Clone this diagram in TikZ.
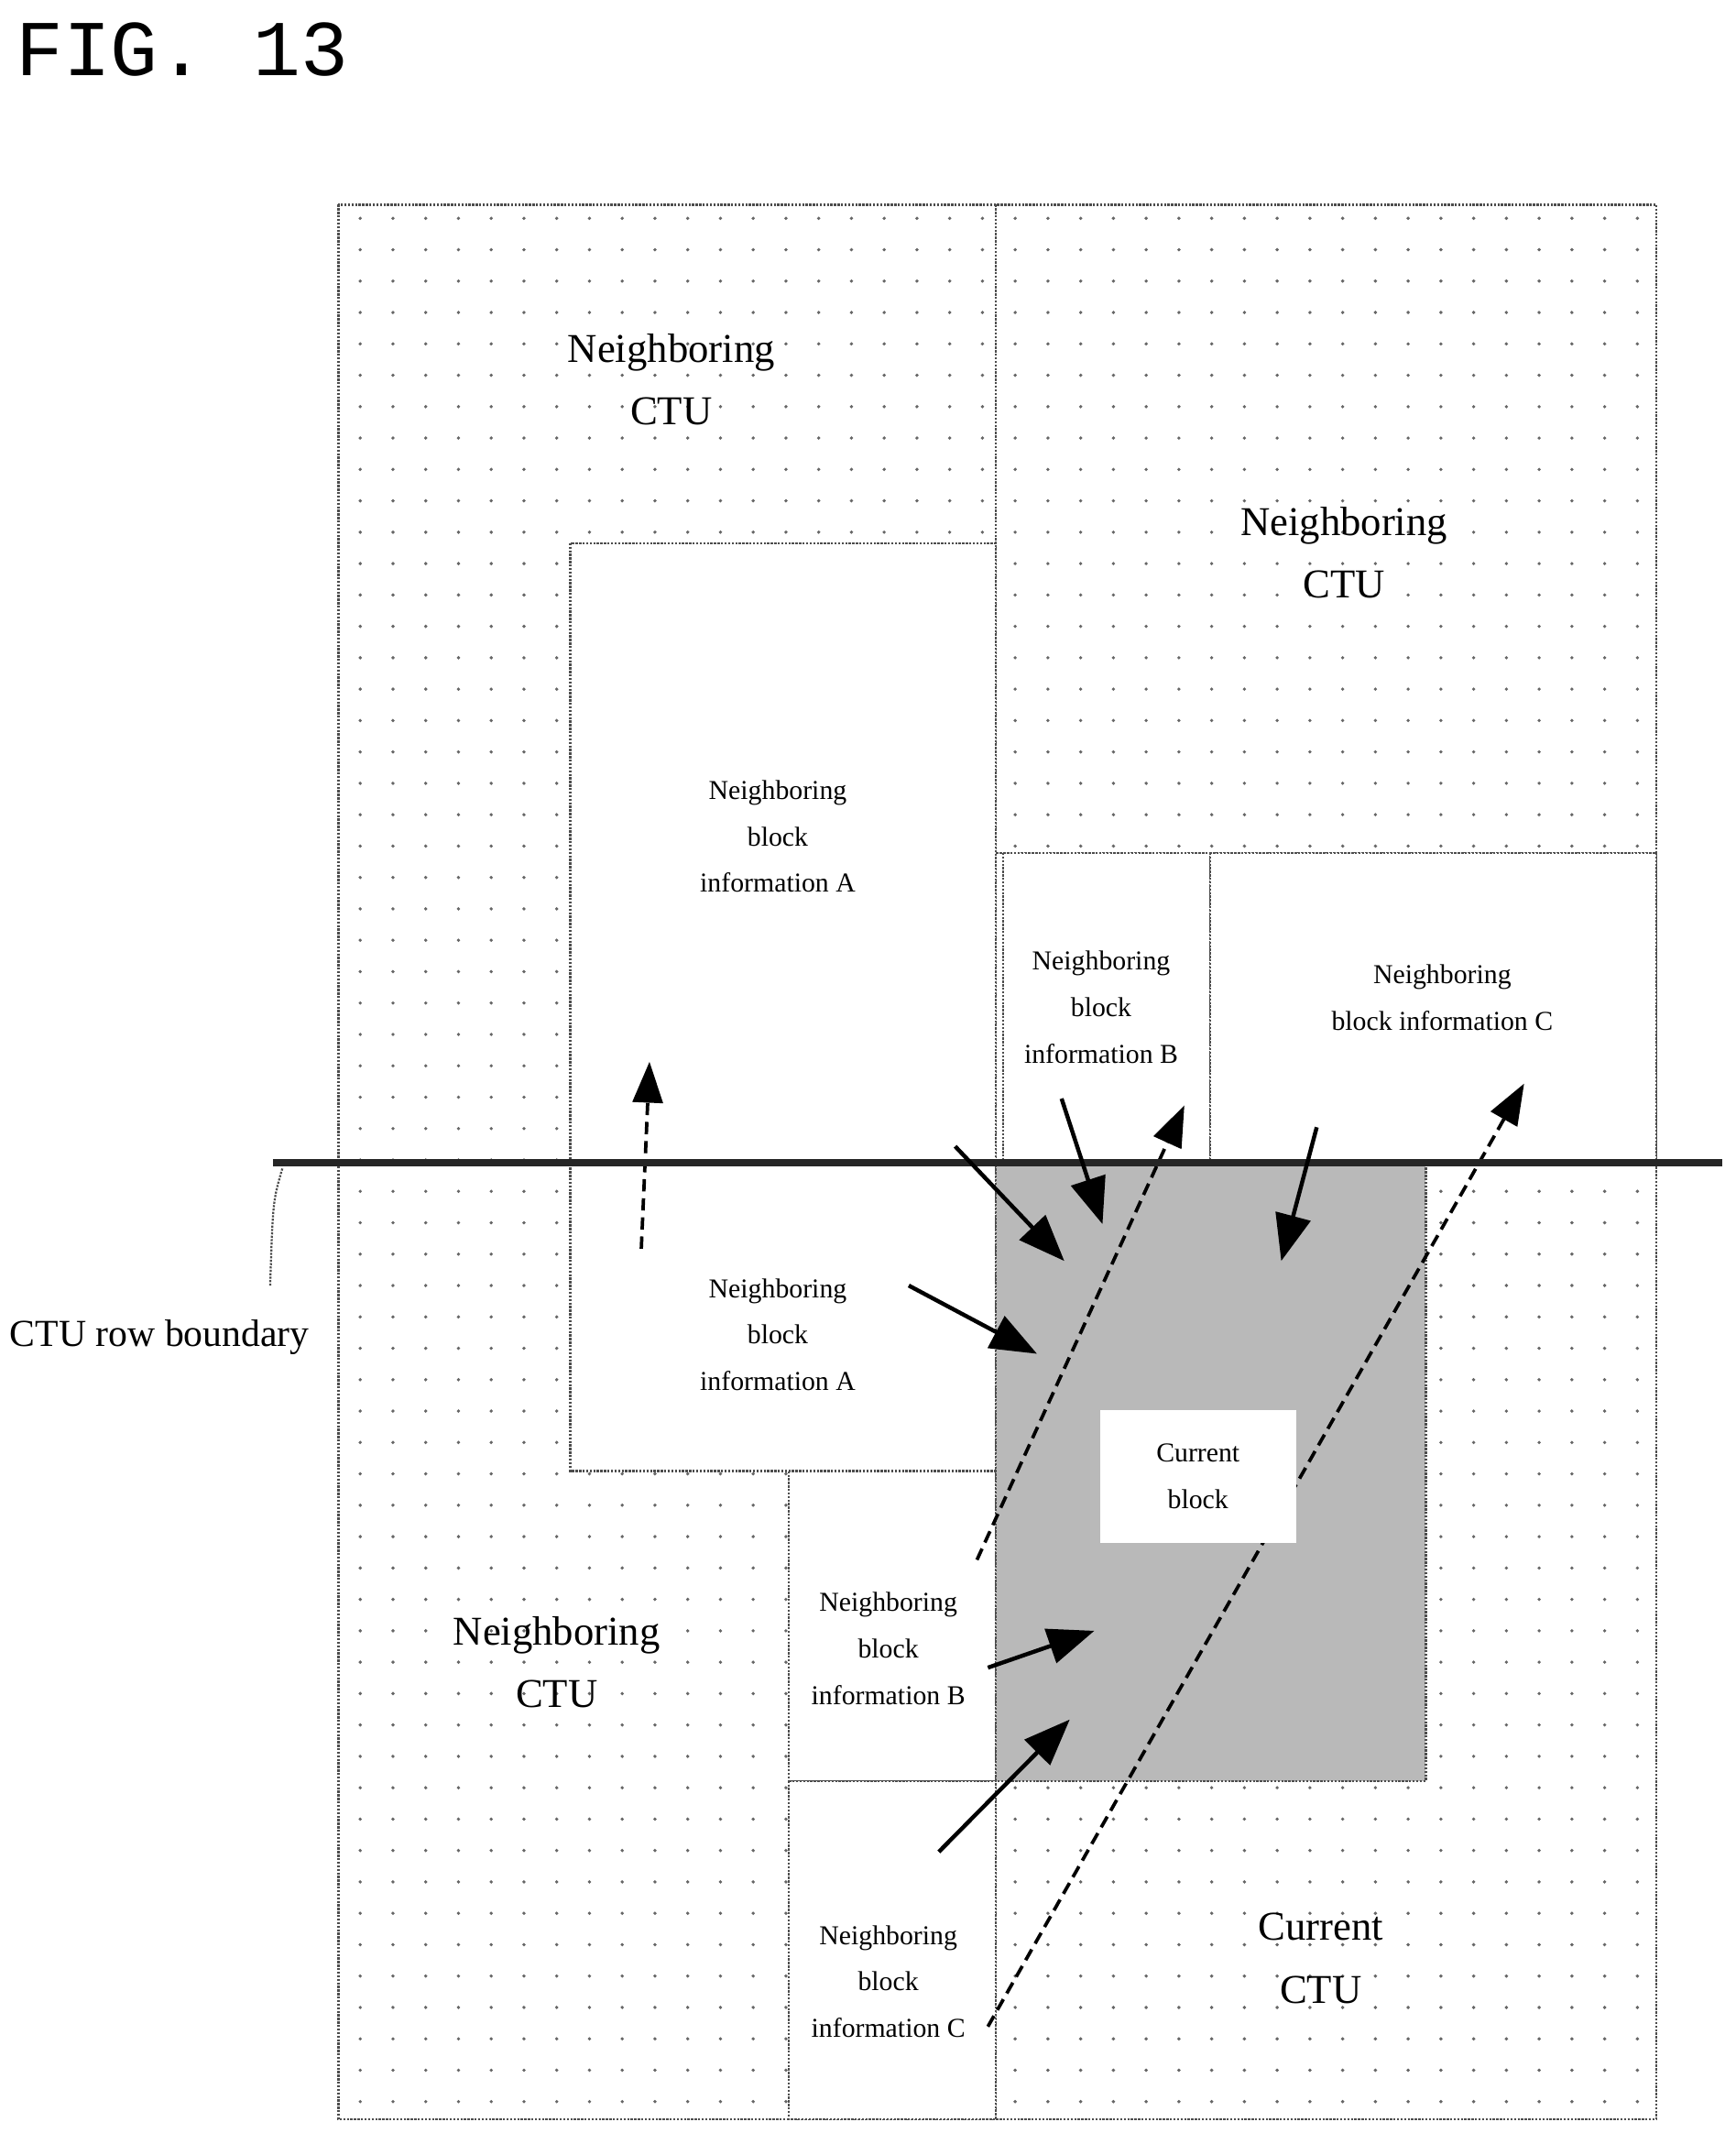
\documentclass[tikz,border=0pt]{standalone}
\usepackage{fontspec}
\setmainfont{Liberation Serif}
\newfontfamily\figfont{Liberation Mono}
\usetikzlibrary{arrows.meta,patterns}
\pgfdeclarepatternformonly{sdots}{\pgfqpoint{-2pt}{-2pt}}{\pgfqpoint{2pt}{2pt}}{\pgfqpoint{24pt}{23pt}}{\pgfpathcircle{\pgfqpoint{0pt}{0pt}}{1.3pt}\pgfusepath{fill}}
\begin{document}
\begin{tikzpicture}[x=1pt,y=-1pt,
  bd/.style={draw=black!70,densely dotted,line width=1.6pt},
  blk/.style={bd,fill=white},
  big/.style={font=\fontsize{30}{46}\selectfont,align=center},
  sm/.style={font=\fontsize{20}{34}\selectfont,align=center},
  ar/.style={line width=3pt,-{Triangle[length=34pt,width=26pt]}},
  da/.style={line width=2.5pt,dash pattern=on 9pt off 5pt,-{Triangle[length=30pt,width=22pt]}}]
\useasboundingbox (0,0) rectangle (1272,1563);
\fill[white] (0,0) rectangle (1272,1563);
\node[font=\figfont\fontsize{58}{58}\selectfont,anchor=west] (fig) at (8,36) {FIG. 13};
% outer area with dots
\fill[pattern=sdots,pattern color=black!60] (248,150) rectangle (1214,1553);
\draw[bd] (248,150) rectangle (1214,1553);
\draw[bd] (730,150) -- (730,1553);
\draw[bd] (730,625) -- (1214,625);
% blocks
\draw[blk] (735,625) rectangle (887,851);
\draw[blk] (887,625) rectangle (1214,851);
\draw[blk] (578,1078) rectangle (730,1305);
\draw[blk] (578,1305) rectangle (730,1553);
\draw[blk] (418,398) rectangle (730,1078);
\fill[gray!55] (730,851) rectangle (1045,1305);
\draw[bd] (730,851) rectangle (1045,1305);
% labels
\node[big] (tl) at (492,278) {Neighboring\\CTU};
\node[big] (tr) at (985,405) {Neighboring\\CTU};
\node[big] (bl) at (408,1218) {Neighboring\\CTU};
\node[big] (cc) at (968,1435) {Current\\CTU};
\node[sm] (a1) at (570,613) {Neighboring\\block\\information A};
\node[sm] (b1) at (807,738) {Neighboring\\block\\information B};
\node[sm] (c1) at (1057,731) {Neighboring\\block information C};
\node[sm] (a2) at (570,978) {Neighboring\\block\\information A};
\node[sm] (b2) at (651,1208) {Neighboring\\block\\information B};
\node[sm] (c2) at (651,1452) {Neighboring\\block\\information C};
% coordinates for connectors
\coordinate (p1s) at (470,915); \coordinate (p1e) at (476,778);
\coordinate (p2s) at (700,840); \coordinate (p2e) at (780,924);
\coordinate (p3s) at (778,805); \coordinate (p3e) at (808,897);
\coordinate (p4s) at (716,1143); \coordinate (p4e) at (868,810);
\coordinate (p5s) at (965,826); \coordinate (p5e) at (939,924);
\coordinate (p6s) at (724,1485); \coordinate (p6e) at (1117,794);
\coordinate (p7s) at (666,942); \coordinate (p7e) at (760,992);
\coordinate (p8s) at (724,1222); \coordinate (p8e) at (802,1195);
\coordinate (p9s) at (688,1357); \coordinate (p9e) at (784,1260);
\draw[da] (p1s) -- (p1e);
\draw[da] (p4s) -- (p4e);
\draw[da] (p6s) -- (p6e);
% current block on top
\node[fill=white,minimum width=144pt,minimum height=97pt,sm] (cur) at (878,1082) {Current\\block};
% boundary
\coordinate (bL) at (200,852); \coordinate (bR) at (1262,852);
\draw[line width=6pt,black!85] (bL) -- (bR);
\node[font=\fontsize{28}{30}\selectfont] (lab) at (117,980) {CTU row boundary};
\coordinate (lk) at (198,942);
\draw[black!70,densely dotted,line width=1.5pt] (lk) .. controls (200,880) .. (207,856);
\draw[ar] (p2s) -- (p2e);
\draw[ar] (p3s) -- (p3e);
\draw[ar] (p5s) -- (p5e);
\draw[ar] (p7s) -- (p7e);
\draw[ar] (p8s) -- (p8e);
\draw[ar] (p9s) -- (p9e);
\end{tikzpicture}
\end{document}
